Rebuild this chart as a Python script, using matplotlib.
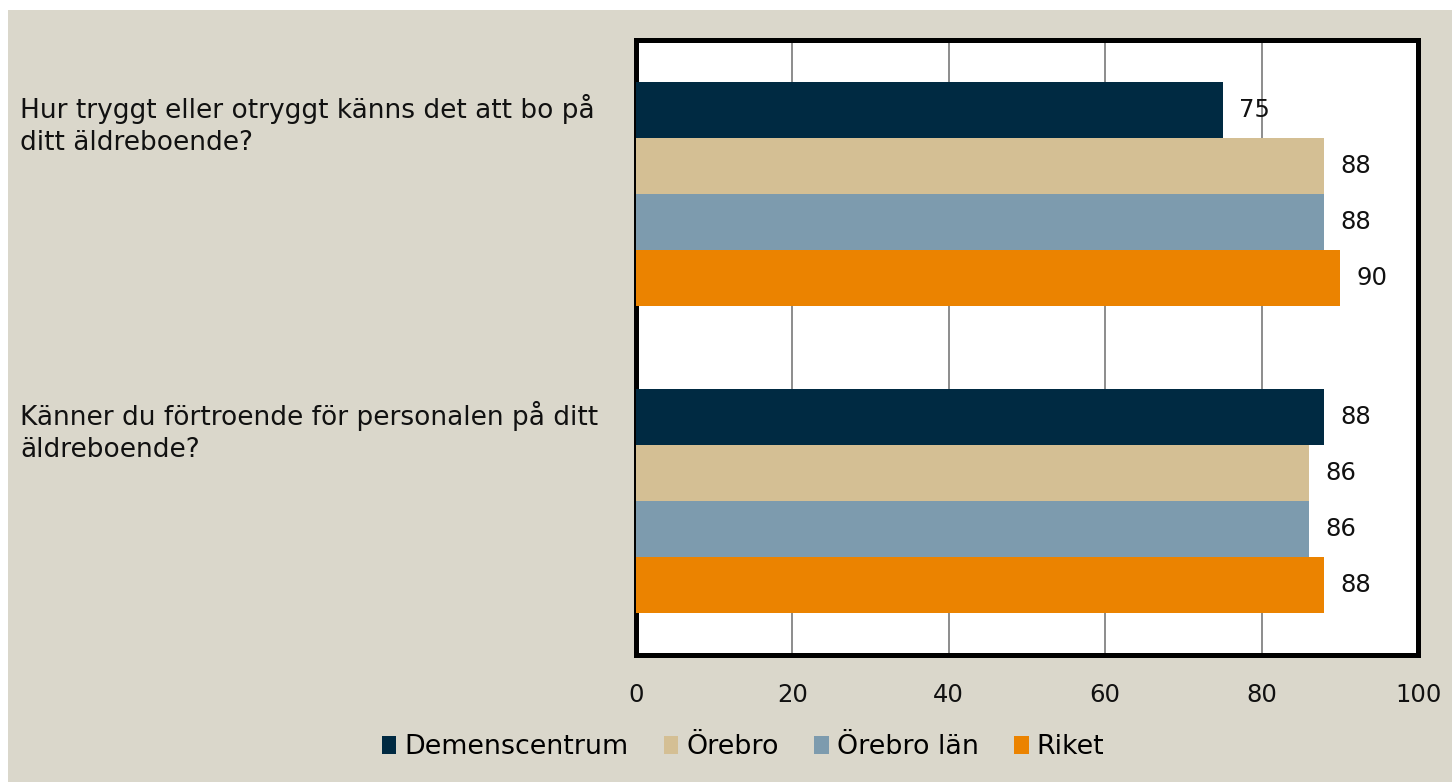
import numpy as np
import matplotlib.pyplot as plt
from matplotlib.patches import Rectangle
from matplotlib.transforms import blended_transform_factory

# Data
questions = ['Hur tryggt eller otryggt känns det att bo på\nditt äldreboende?',
             'Känner du förtroende för personalen på ditt\näldreboende?']
series = ['Demenscentrum', 'Örebro', 'Örebro län', 'Riket']
values = [[75, 88],   # Demenscentrum
          [88, 86],   # Örebro
          [88, 86],   # Örebro län
          [90, 88]]   # Riket
colors = ['#002A42', '#D4BF94', '#7D9BAE', '#EB8300']
xticks = [0, 20, 40, 60, 80, 100]

plt.rcParams['font.family'] = ['DejaVu Sans']

W, H = 1452, 782
fig = plt.figure(figsize=(W / 100, H / 100), dpi=100)
fig.patch.set_facecolor('white')

# beige panel behind everything
fig.patches.append(Rectangle((8 / W, 0), 1, 1 - 10 / H, transform=fig.transFigure,
                             facecolor='#DAD7CB', edgecolor='none', zorder=-10))

ax = fig.add_axes([636 / W, 1 - 655 / H, (1418 - 636) / W, (655 - 40) / H])
ax.set_facecolor('white')

bar_h = 0.182
y = np.arange(len(questions))
n = len(series)
for i, (name, vals, c) in enumerate(zip(series, values, colors)):
    pos = y + (i - (n - 1) / 2) * bar_h
    ax.barh(pos, vals, height=bar_h, color=c, label=name, zorder=3)
    for p, v in zip(pos, vals):
        ax.text(v + 2.1, p, str(v), va='center', ha='left', fontsize=17.5,
                color='#111111', zorder=4)

ax.set_xlim(0, 100)
ax.set_ylim(1.5, -0.5)
ax.set_xticks(xticks)
ax.set_xticklabels([str(t) for t in xticks], fontsize=17.5, color='#111111')
ax.tick_params(axis='x', length=0, pad=20)
ax.set_yticks([])
ax.grid(axis='x', color='#8C8C8C', linewidth=1.4, zorder=1)
for s in ax.spines.values():
    s.set_linewidth(3.6)
    s.set_color('black')

# question labels on the left
trans = blended_transform_factory(fig.transFigure, ax.transData)
for q, yy in zip(questions, y):
    ax.text(20 / W, yy - 0.225, q, transform=trans, ha='left', va='center',
            fontsize=19, linespacing=1.3, color='#111111')

fig.legend(loc='center', bbox_to_anchor=(743 / W, 1 - 747 / H), ncol=4, frameon=False,
           fontsize=19.4, handlelength=0.55, handleheight=0.65, handletextpad=0.3,
           columnspacing=1.3, borderaxespad=0)

fig.savefig('out.png', dpi=100, facecolor=fig.get_facecolor())
